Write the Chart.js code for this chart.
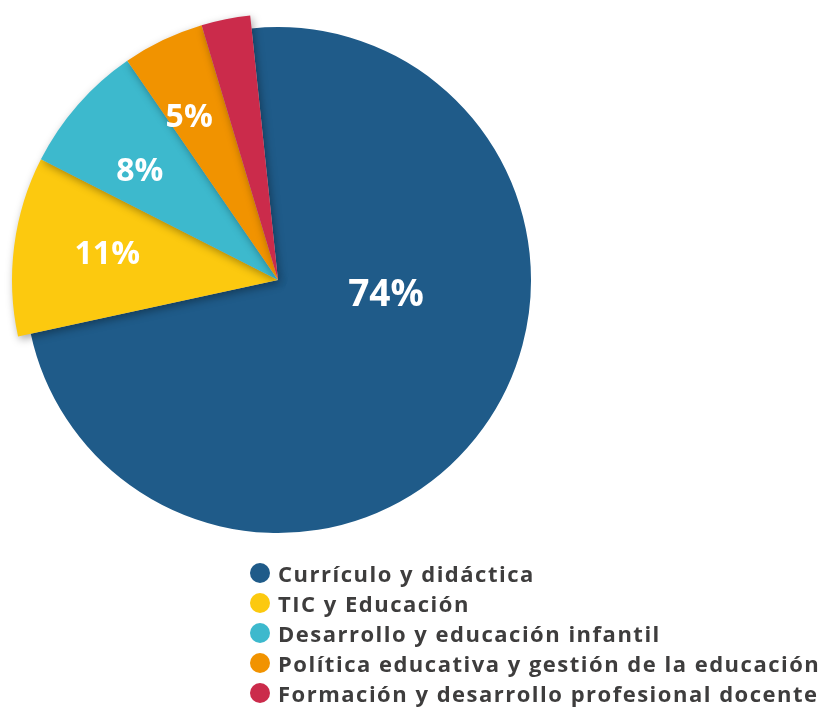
<!DOCTYPE html>
<html lang="es">
<head>
    <meta charset="UTF-8">
    <title>Temas</title>
    <script src="https://cdn.jsdelivr.net/npm/chart.js"></script>
    <style>
        body {
            margin: 0;
            background: #ffffff;
            font-family: 'Open Sans', sans-serif;
        }
        .wrap {
            position: relative;
            width: 824px;
            height: 707px;
        }
        .pie-box {
            position: absolute;
            left: 0;
            top: 0;
            width: 824px;
            height: 560px;
        }
        #legend {
            position: absolute;
            left: 250px;
            top: 558px;
            margin: 0;
            padding: 0;
            list-style: none;
        }
        #legend li {
            display: flex;
            align-items: center;
            height: 30px;
            font-size: 22px;
            font-weight: 700;
            letter-spacing: 1.5px;
            color: #3e3d3d;
            white-space: nowrap;
        }
        #legend .dot {
            width: 20px;
            height: 20px;
            border-radius: 50%;
            margin-right: 8px;
            flex: none;
        }
    </style>
</head>
<body>
    <div class="wrap">
        <div class="pie-box">
            <canvas id="pieChart"></canvas>
        </div>
        <ul id="legend"></ul>
    </div>

    <script>
        // Data
        const categories = [
            'Currículo y didáctica',
            'TIC y Educación',
            'Desarrollo y educación infantil',
            'Política educativa y gestión de la educación',
            'Formación y desarrollo profesional docente'
        ];
        const percentages = [74, 11, 8, 5, 3];
        const colors = ['#1f5b89', '#fcc90f', '#3db9cd', '#f19300', '#cb2b4b'];

        // label placement: fraction of radius, angle shift (deg)
        const labelRadius = [0.43, 0.65, 0.665, 0.70, 0];
        const labelShift = [-29, 1.7, -2.6, -2.9, 0];

        // the big slice is drawn a bit smaller than the others
        const shrinkPlugin = {
            id: 'shrinkFirst',
            afterDatasetUpdate(chart, args) {
                const arc = args.meta.data[0];
                if (arc) arc.outerRadius = arc.outerRadius * 253 / 266;
            }
        };

        // small slices get a soft shadow
        const shadowPlugin = {
            id: 'sliceShadow',
            beforeDatasetDraw(chart, args) {
                const ctx = chart.ctx;
                const arcs = args.meta.data;
                arcs[0].draw(ctx);
                ctx.save();
                ctx.shadowColor = 'rgba(0, 0, 0, 0.35)';
                ctx.shadowBlur = 8;
                ctx.shadowOffsetX = 2;
                ctx.shadowOffsetY = 3;
                for (let i = 1; i < arcs.length; i++) {
                    arcs[i].draw(ctx);
                }
                ctx.restore();
                return false;
            }
        };

        const labelPlugin = {
            id: 'pctLabels',
            afterDatasetsDraw(chart) {
                const ctx = chart.ctx;
                const arcs = chart.getDatasetMeta(0).data;
                ctx.save();
                ctx.fillStyle = '#ffffff';
                ctx.textAlign = 'center';
                ctx.textBaseline = 'middle';
                arcs.forEach((arc, i) => {
                    if (percentages[i] < 5) return;
                    const a = (arc.startAngle + arc.endAngle) / 2 + labelShift[i] * Math.PI / 180;
                    const r = arc.outerRadius * labelRadius[i];
                    const size = i === 0 ? 37 : 32;
                    ctx.font = '700 ' + size + 'px "Open Sans", sans-serif';
                    ctx.fillText(percentages[i] + '%', arc.x + Math.cos(a) * r, arc.y + Math.sin(a) * r + 2);
                });
                ctx.restore();
            }
        };

        const ctx = document.getElementById('pieChart').getContext('2d');
        const pieChart = new Chart(ctx, {
            type: 'pie',
            data: {
                labels: categories,
                datasets: [{
                    data: percentages,
                    backgroundColor: colors,
                    borderWidth: 0
                }]
            },
            options: {
                responsive: true,
                maintainAspectRatio: false,
                animation: false,
                rotation: -6,
                layout: {
                    padding: { left: 0, right: 268, top: 14, bottom: 14 }
                },
                plugins: {
                    legend: { display: false },
                    tooltip: { enabled: false }
                }
            },
            plugins: [shrinkPlugin, shadowPlugin, labelPlugin]
        });

        // HTML legend
        const legend = document.getElementById('legend');
        categories.forEach((name, i) => {
            const li = document.createElement('li');
            const dot = document.createElement('span');
            dot.className = 'dot';
            dot.style.background = colors[i];
            li.appendChild(dot);
            li.appendChild(document.createTextNode(name));
            legend.appendChild(li);
        });
    </script>
</body>
</html>
